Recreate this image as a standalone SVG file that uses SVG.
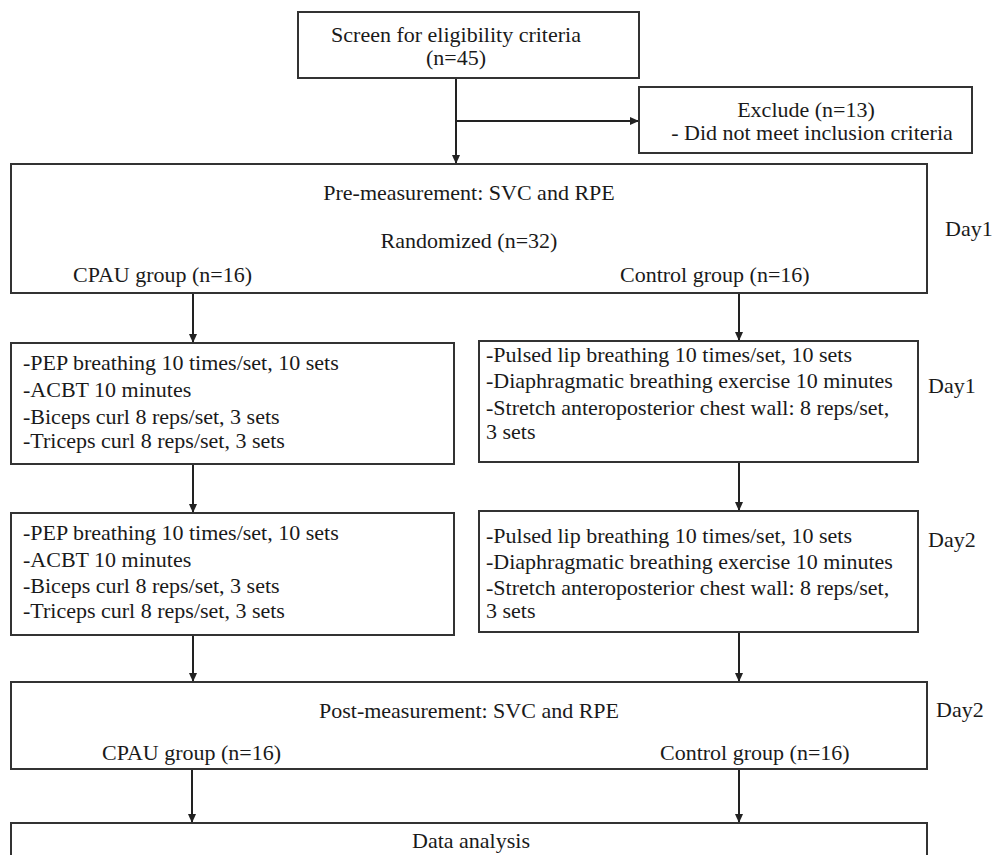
<svg xmlns="http://www.w3.org/2000/svg" width="1005" height="855" viewBox="0 0 1005 855">
<style>
.box{fill:#fff;stroke:#333;stroke-width:2}
.t{font-family:"Liberation Serif","Times New Roman",serif;font-size:22px;fill:#1a1a1a}
.m{text-anchor:middle}
.c{stroke:#222;stroke-width:2;fill:none;marker-end:url(#ah)}
</style>
<defs>
<marker id="ah" markerUnits="userSpaceOnUse" markerWidth="9" markerHeight="8" refX="9" refY="4" orient="auto">
<path d="M0,0 L9,4 L0,8 z" fill="#222"/>
</marker>
</defs>
<rect width="1005" height="855" fill="#fff"/>
<g id="connectors">
<line class="c" x1="456" y1="78" x2="456" y2="164"/>
<line class="c" x1="456" y1="121" x2="639" y2="121"/>
<line class="c" x1="193" y1="293" x2="193" y2="343"/>
<line class="c" x1="739" y1="293" x2="739" y2="341"/>
<line class="c" x1="193" y1="464" x2="193" y2="513"/>
<line class="c" x1="739" y1="462" x2="739" y2="511"/>
<line class="c" x1="193" y1="635" x2="193" y2="682"/>
<line class="c" x1="739" y1="632" x2="739" y2="682"/>
<line class="c" x1="192" y1="769" x2="192" y2="823"/>
<line class="c" x1="739" y1="769" x2="739" y2="823"/>
</g>
<g id="screen">
<rect class="box" x="298" y="12" width="341" height="66"/>
<text class="t m" x="456" y="42">Screen for eligibility criteria</text>
<text class="t m" x="456" y="65">(n=45)</text>
</g>
<g id="exclude">
<rect class="box" x="639" y="87" width="333" height="66"/>
<text class="t m" x="806" y="117">Exclude (n=13)</text>
<text class="t m" x="812" y="140">- Did not meet inclusion criteria</text>
</g>
<g id="pre">
<rect class="box" x="11" y="164" width="916" height="129"/>
<text class="t m" x="469" y="200">Pre-measurement: SVC and RPE</text>
<text class="t m" x="469" y="248">Randomized (n=32)</text>
<text class="t" x="73" y="282">CPAU group (n=16)</text>
<text class="t" x="620" y="282">Control group (n=16)</text>
</g>
<g id="day1a"><text class="t" x="945" y="236">Day1</text></g>
<g id="cpau1">
<rect class="box" x="11" y="343" width="443" height="121"/>
<text class="t" x="23" y="370">-PEP breathing 10 times/set, 10 sets</text>
<text class="t" x="23" y="397">-ACBT 10 minutes</text>
<text class="t" x="23" y="424">-Biceps curl 8 reps/set, 3 sets</text>
<text class="t" x="23" y="448">-Triceps curl 8 reps/set, 3 sets</text>
</g>
<g id="ctrl1">
<rect class="box" x="479" y="341" width="439" height="121"/>
<text class="t" x="486" y="362">-Pulsed lip breathing 10 times/set, 10 sets</text>
<text class="t" x="486" y="388">-Diaphragmatic breathing exercise 10 minutes</text>
<text class="t" x="486" y="415">-Stretch anteroposterior chest wall: 8 reps/set,</text>
<text class="t" x="486" y="439">3 sets</text>
</g>
<g id="day1b"><text class="t" x="928" y="393">Day1</text></g>
<g id="cpau2">
<rect class="box" x="11" y="513" width="443" height="122"/>
<text class="t" x="23" y="540">-PEP breathing 10 times/set, 10 sets</text>
<text class="t" x="23" y="567">-ACBT 10 minutes</text>
<text class="t" x="23" y="593">-Biceps curl 8 reps/set, 3 sets</text>
<text class="t" x="23" y="618">-Triceps curl 8 reps/set, 3 sets</text>
</g>
<g id="ctrl2">
<rect class="box" x="479" y="511" width="439" height="121"/>
<text class="t" x="486" y="543">-Pulsed lip breathing 10 times/set, 10 sets</text>
<text class="t" x="486" y="569">-Diaphragmatic breathing exercise 10 minutes</text>
<text class="t" x="486" y="595">-Stretch anteroposterior chest wall: 8 reps/set,</text>
<text class="t" x="486" y="618">3 sets</text>
</g>
<g id="day2a"><text class="t" x="928" y="547">Day2</text></g>
<g id="post">
<rect class="box" x="11" y="682" width="916" height="87"/>
<text class="t m" x="469" y="718">Post-measurement: SVC and RPE</text>
<text class="t" x="102" y="760">CPAU group (n=16)</text>
<text class="t" x="660" y="760">Control group (n=16)</text>
</g>
<g id="day2b"><text class="t" x="936" y="717">Day2</text></g>
<g id="analysis">
<rect class="box" x="11" y="823" width="916" height="45"/>
<text class="t m" x="471" y="848">Data analysis</text>
</g>
</svg>
